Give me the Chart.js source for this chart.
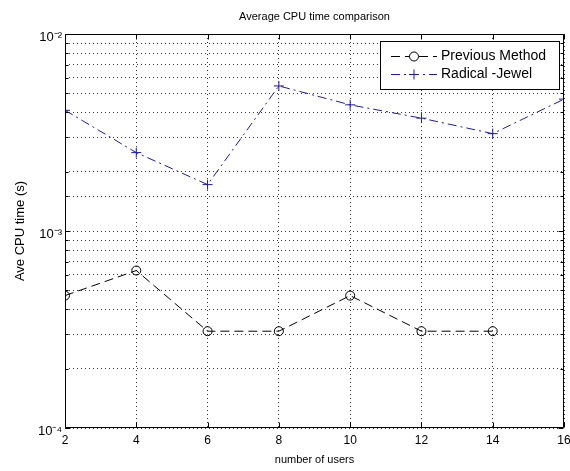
<!DOCTYPE html>
<html>
<head>
<meta charset="utf-8">
<script src="https://cdn.jsdelivr.net/npm/chart.js@4/dist/chart.umd.min.js"></script>
<style>
  html, body { margin: 0; padding: 0; background: #fff; }
  #wrap { width: 570px; height: 471px; position: relative; }
</style>
</head>
<body>
<div id="wrap"><canvas id="c" width="570" height="471"></canvas></div>
<script>
// ---- data ----
const users = [2, 4, 6, 8, 10, 12, 14, 16];
const previousMethod = [4.7e-4, 6.3e-4, 3.1e-4, 3.1e-4, 4.7e-4, 3.1e-4, 3.1e-4, null];
const radicalJewel = [4.1e-3, 2.5e-3, 1.72e-3, 5.45e-3, 4.37e-3, 3.74e-3, 3.12e-3, 4.67e-3];
const xTicks = [2, 4, 6, 8, 10, 12, 14, 16];
const yDecadeLabels = { '-4': '10\u207B\u2074', '-3': '10\u207B\u00B3', '-2': '10\u207B\u00B2' };
const seriesNames = ['Previous Method', 'Radical -Jewel'];
const chartTitle = 'Average CPU time comparison';

const FONT = 'Liberation Sans, Arial, Helvetica, sans-serif';
const BLUE = '#1c1c9c';
const GRID = '#3a3a3a';
const prevDash = [9, 5];
const radDash = [9, 4, 2, 4];

function toPoints(vals) {
  return users.map((u, i) => ({ x: u, y: vals[i] })).filter(p => p.y !== null);
}

const titleOverAxes = {
  id: 'titleOverAxes',
  afterDraw(chart) {
    const ctx = chart.ctx, a = chart.chartArea;
    ctx.save();
    ctx.fillStyle = '#000';
    ctx.font = '11px ' + FONT;
    ctx.textAlign = 'center';
    ctx.textBaseline = 'middle';
    ctx.fillText(chartTitle, (a.left + a.right) / 2, 17);
    ctx.restore();
  }
};

const boxAndTicks = {
  id: 'boxAndTicks',
  afterDatasetsDraw(chart) {
    const ctx = chart.ctx, a = chart.chartArea;
    const xs = chart.scales.x, ys = chart.scales.y;
    ctx.save();
    ctx.strokeStyle = '#000';
    ctx.lineWidth = 1;
    ctx.setLineDash([]);
    const L = Math.round(a.left) + 0.5, R = Math.round(a.right) - 0.5;
    const T = Math.round(a.top) + 0.5, B = Math.round(a.bottom) - 0.5;
    ctx.beginPath();
    ctx.rect(L, T, R - L, B - T);
    ctx.stroke();
    ctx.beginPath();
    xs.ticks.forEach(t => {
      const px = Math.round(xs.getPixelForValue(t.value)) + 0.5;
      ctx.moveTo(px, B); ctx.lineTo(px, B - 5);
      ctx.moveTo(px, T); ctx.lineTo(px, T + 5);
    });
    ys.ticks.forEach(t => {
      const py = Math.round(ys.getPixelForValue(t.value)) + 0.5;
      const e = Math.log10(t.value);
      const major = Math.abs(e - Math.round(e)) < 1e-6;
      const len = major ? 5 : 3;
      ctx.moveTo(L, py); ctx.lineTo(L + len, py);
      ctx.moveTo(R, py); ctx.lineTo(R - len, py);
    });
    ctx.stroke();
    ctx.restore();
  }
};

const boxLegend = {
  id: 'boxLegend',
  afterDraw(chart) {
    const ctx = chart.ctx;
    const bx = 380.5, by = 41.5, bw = 179, bh = 48;
    ctx.save();
    ctx.fillStyle = '#fff';
    ctx.fillRect(bx, by, bw, bh);
    ctx.strokeStyle = '#000';
    ctx.lineWidth = 1;
    ctx.setLineDash([]);
    ctx.strokeRect(bx, by, bw, bh);
    const rows = [
      { y: 56.5, color: '#000', dash: prevDash, marker: 'circle', name: seriesNames[0] },
      { y: 74.5, color: BLUE, dash: radDash, marker: 'cross', name: seriesNames[1] }
    ];
    rows.forEach(r => {
      ctx.strokeStyle = r.color;
      ctx.lineWidth = 1;
      ctx.setLineDash(r.dash);
      ctx.beginPath();
      ctx.moveTo(391, r.y); ctx.lineTo(437, r.y);
      ctx.stroke();
      ctx.setLineDash([]);
      ctx.beginPath();
      if (r.marker === 'circle') {
        ctx.fillStyle = '#fff';
        ctx.arc(414, r.y, 4.5, 0, Math.PI * 2);
        ctx.fill();
        ctx.stroke();
      } else {
        ctx.moveTo(409, r.y); ctx.lineTo(419, r.y);
        ctx.moveTo(414, r.y - 5); ctx.lineTo(414, r.y + 5);
        ctx.stroke();
      }
      ctx.fillStyle = '#000';
      ctx.font = '14px ' + FONT;
      ctx.textBaseline = 'middle';
      ctx.textAlign = 'left';
      ctx.fillText(r.name, 441, r.y);
    });
    ctx.restore();
  }
};

new Chart(document.getElementById('c'), {
  type: 'line',
  data: {
    datasets: [
      {
        label: seriesNames[0],
        data: toPoints(previousMethod),
        borderColor: '#000',
        borderWidth: 1,
        borderDash: prevDash,
        pointStyle: 'circle',
        pointRadius: 4.5,
        pointBorderColor: '#000',
        pointBackgroundColor: 'rgba(0,0,0,0)',
        pointBorderWidth: 1,
        tension: 0,
        fill: false
      },
      {
        label: seriesNames[1],
        data: toPoints(radicalJewel),
        borderColor: BLUE,
        borderWidth: 1,
        borderDash: radDash,
        pointStyle: 'cross',
        pointRadius: 5,
        pointBorderColor: BLUE,
        pointBorderWidth: 1,
        tension: 0,
        fill: false
      }
    ]
  },
  options: {
    responsive: false,
    animation: false,
    devicePixelRatio: 1,
    layout: { padding: { left: 0, right: 4, top: 34, bottom: 0 } },
    plugins: {
      legend: { display: false },
      tooltip: { enabled: false },
      title: { display: false }
    },
    scales: {
      x: {
        type: 'linear',
        min: 2, max: 16,
        afterBuildTicks(s) { s.ticks = xTicks.map(v => ({ value: v })); },
        afterFit(s) { s.height = 43; s.paddingLeft = 0; s.paddingRight = 0; },
        grid: { color: GRID, lineWidth: 1, drawTicks: false, tickLength: 0 },
        border: { display: false, dash: [1, 3] },
        ticks: {
          color: '#000', font: { family: FONT, size: 12 }, padding: 5,
          maxRotation: 0, autoSkip: false
        },
        title: {
          display: true, text: 'number of users', color: '#000',
          font: { family: FONT, size: 11 }, padding: { top: 0, bottom: 4 }
        }
      },
      y: {
        type: 'logarithmic',
        min: 1e-4, max: 1e-2,
        afterFit(s) { s.width = 65; s.paddingTop = 0; s.paddingBottom = 0; },
        grid: { color: GRID, lineWidth: 1, drawTicks: false, tickLength: 0 },
        border: { display: false, dash: [1, 3] },
        ticks: {
          color: '#000', font: { family: FONT, size: 13 }, padding: 3,
          autoSkip: false, labelOffset: 3,
          callback(v) {
            const e = Math.log10(v);
            if (Math.abs(e - Math.round(e)) < 1e-6) return yDecadeLabels[String(Math.round(e))] || '';
            return '';
          }
        },
        title: {
          display: true, text: 'Ave CPU time (s)', color: '#000',
          font: { family: FONT, size: 13 }, padding: { top: 13, bottom: 0 }
        }
      }
    }
  },
  plugins: [boxAndTicks, boxLegend, titleOverAxes]
});
</script>
</body>
</html>
